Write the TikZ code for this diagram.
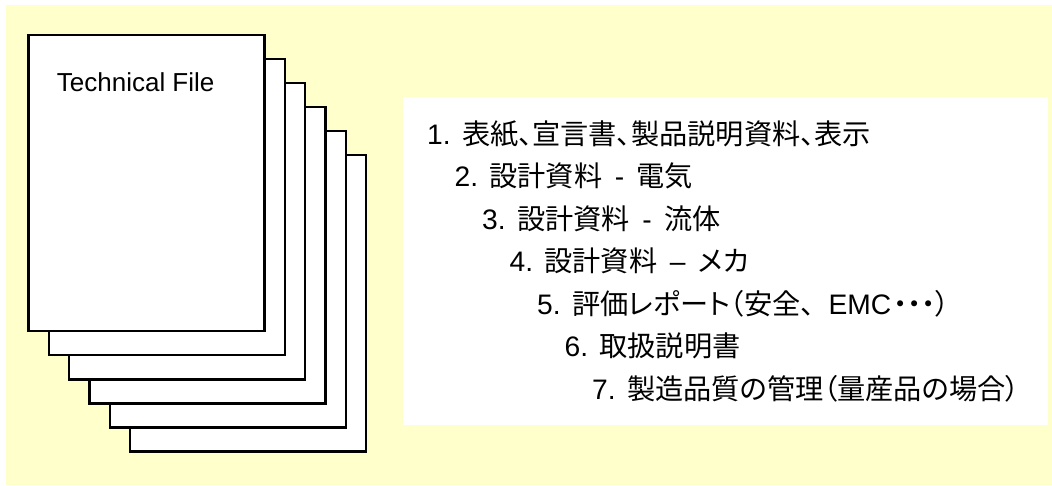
\documentclass[tikz,border=0pt]{standalone}
\usepackage{fontspec}
\setmainfont{Liberation Sans}
\newfontfamily\cjk[RawFeature=+palt]{Noto Sans CJK JP}
\newfontfamily\cjkn{Noto Sans CJK JP}
\definecolor{bgyellow}{RGB}{255,255,204}
\newcommand\itemnum[1]{#1.\hspace{0.4em}}
\begin{document}
\begin{tikzpicture}[x=1pt,y=-1pt,
  page/.style={draw=black, fill=white, line width=2.2pt, minimum width=236pt,
               minimum height=296.5pt, anchor=north west, inner sep=0pt, outer sep=0pt},
  listbox/.style={fill=white, minimum width=645pt, minimum height=327.7pt,
               anchor=north west, inner sep=0pt, outer sep=0pt},
  item/.style={anchor=base west, inner sep=0pt, font=\fontsize{28.2}{32}\selectfont},
  title/.style={anchor=base west, inner sep=0pt, font=\fontsize{26}{30}\selectfont}]
\useasboundingbox (0,0) rectangle (1052,485);
\fill[bgyellow] (6,5) rectangle (1052,485);

% stacked pages, back to front
\node[page] (p6) at (130.0,155.0) {};
\node[page] (p5) at (109.8,131.0) {};
\node[page] (p4) at (89.5,107.0) {};
\node[page] (p3) at (69.2,83.0) {};
\node[page] (p2) at (48.9,58.8) {};
\node[page] (p1) at (28.5,34.7) {};
\node[title] (tf) at (56.7,91) {Technical File};

% list box
\node[listbox] (list) at (403,97.3) {};
\node[item] (i1) at (427.0,144.0) {\itemnum{1}{\cjk 表紙、宣言書、製品説明資料、表示}};
\node[item] (i2) at (454.5,186.5) {\itemnum{2}{\cjk 設計資料} \,-\, {\cjk 電気}};
\node[item] (i3) at (482.0,229.0) {\itemnum{3}{\cjk 設計資料} \,-\, {\cjk 流体}};
\node[item] (i4) at (509.5,271.5) {\itemnum{4}{\cjk 設計資料} \,–\, {\cjk メカ}};
\node[item] (i5) at (537.0,314.0) {\itemnum{5}{\cjk 評価レポート（安全}{\cjkn 、}EMC\hspace{2pt}{\cjk ・・・）}};
\node[item] (i6) at (564.5,356.5) {\itemnum{6}{\cjk 取扱説明書}};
\node[item] (i7) at (592.0,399.0) {\itemnum{7}{\cjk 製造品質の管理（量産品の場合）}};
\end{tikzpicture}
\end{document}
